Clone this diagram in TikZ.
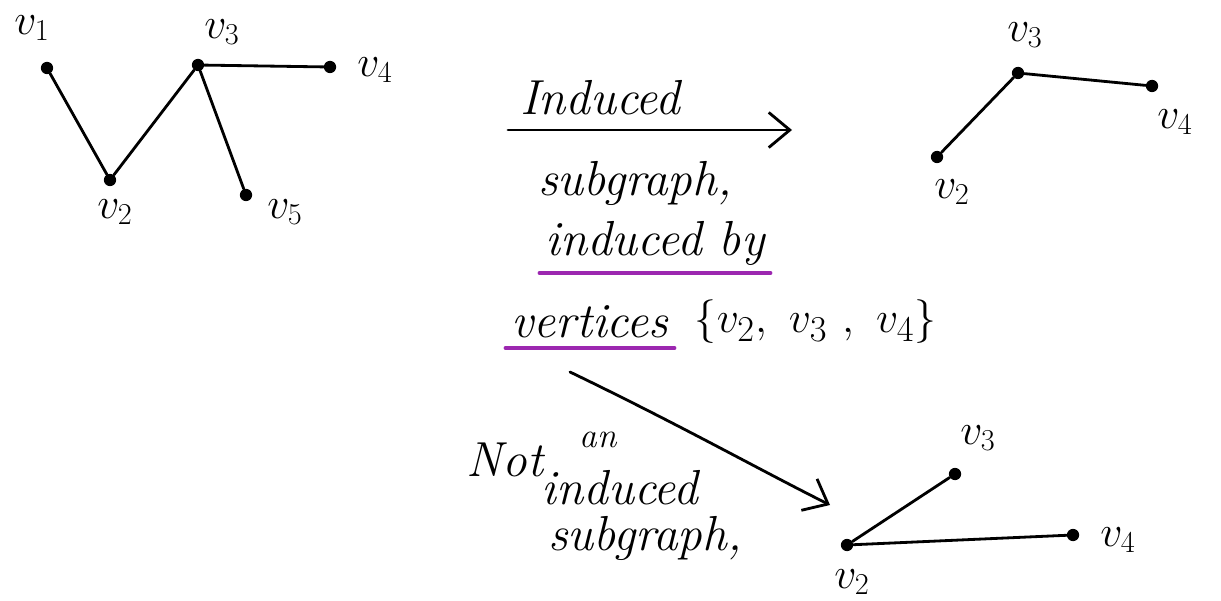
\documentclass[tikz,border=0pt]{standalone}
\usetikzlibrary{arrows.meta}
\definecolor{ulpurple}{RGB}{156,39,176}
\begin{document}
\begin{tikzpicture}[x=0.02cm,y=-0.02cm,>={Straight Barb[length=12pt,width=20pt]},
    vtx/.style={circle,fill,inner sep=0pt,minimum size=7pt},
    lbl/.style={font=\fontsize{24}{28}\selectfont},
    txt/.style={font=\fontsize{28}{32}\selectfont\itshape},
    edge/.style={line width=1.6pt,line cap=round},
    ul/.style={ulpurple,line width=2pt,line cap=round}]
    \useasboundingbox (0,0) rectangle (1221,601);
    % original graph
    \node (a1) at (47,68) [vtx]{};
    \node (a2) at (110,180) [vtx]{};
    \node (a3) at (198,65) [vtx]{};
    \node (a4) at (330,67) [vtx]{};
    \node (a5) at (246,195) [vtx]{};
    \node (la1) at (32,28) [lbl]{$v_1$};
    \node (la2) at (115,212) [lbl]{$v_2$};
    \node (la3) at (222,32) [lbl]{$v_3$};
    \node (la4) at (375,70) [lbl]{$v_4$};
    \node (la5) at (285,212) [lbl]{$v_5$};
    \draw[edge] (a1) -- (a2);
    \draw[edge] (a2) -- (a3);
    \draw[edge] (a3) -- (a4);
    \draw[edge] (a3) -- (a5);
    % induced subgraph
    \node (b2) at (937,157) [vtx]{};
    \node (b3) at (1018,73) [vtx]{};
    \node (b4) at (1152,86) [vtx]{};
    \node (lb2) at (952,192) [lbl]{$v_2$};
    \node (lb3) at (1025,35) [lbl]{$v_3$};
    \node (lb4) at (1175,122) [lbl]{$v_4$};
    \draw[edge] (b2) -- (b3);
    \draw[edge] (b3) -- (b4);
    % not induced
    \node (c2) at (847,545) [vtx]{};
    \node (c3) at (955,474) [vtx]{};
    \node (c4) at (1073,535) [vtx]{};
    \node (lc2) at (852,582) [lbl]{$v_2$};
    \node (lc3) at (978,438) [lbl]{$v_3$};
    \node (lc4) at (1118,540) [lbl]{$v_4$};
    \draw[edge] (c2) -- (c3);
    \draw[edge] (c2) -- (c4);
    % arrows
    \coordinate (p1) at (508,130);
    \coordinate (p2) at (792,130);
    \coordinate (q1) at (570,372);
    \coordinate (q2) at (830,505);
    \draw[edge,->] (p1) -- (p2);
    \draw[edge,->] (q1) .. controls (680,425) and (760,470) .. (q2);
    % texts
    \node (t1) at (600,98) [txt]{Induced};
    \node (t2) at (635,183) [txt]{subgraph,};
    \node (t3) at (655,243) [txt]{induced by};
    \node (t4) at (590,322) [txt]{vertices};
    \node (t5) at ([xshift=8pt]t4.east) [anchor=west,font=\fontsize{28}{32}\selectfont]{$\{v_2,\ v_3\ ,\ v_4\}$};
    \draw[ul] ([yshift=-1pt]t3.south west) -- ([yshift=-1pt]t3.south east);
    \draw[ul] ([yshift=-2pt]t4.south west) -- ([yshift=-2pt]t4.south east);
    \node (n1) at (505,460) [txt]{Not};
    \node (n2) at (598,440) [txt,font=\fontsize{20}{24}\selectfont\itshape]{an};
    \node (n3) at (620,488) [txt]{induced};
    \node (n4) at (645,538) [txt]{subgraph,};
\end{tikzpicture}
\end{document}
